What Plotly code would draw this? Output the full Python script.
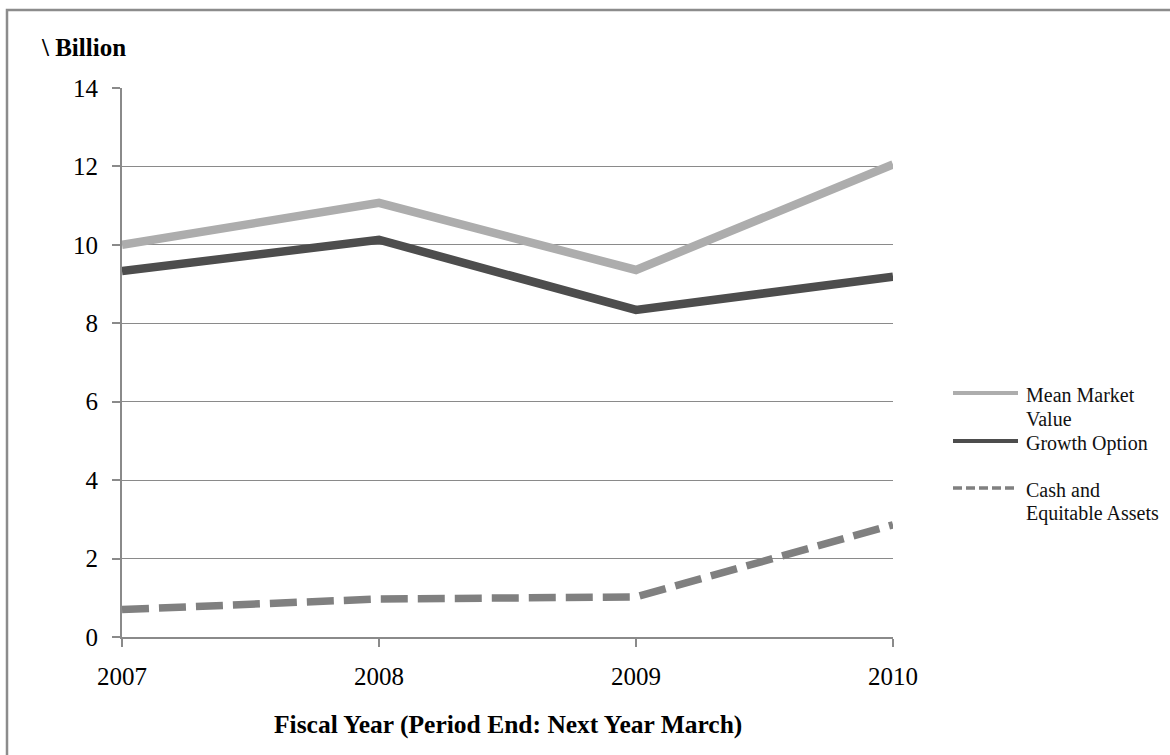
import plotly.graph_objects as go

# Fiscal years and values (\ Billion)
years = [2007, 2008, 2009, 2010]
mean_market_value = [10.0, 11.07, 9.36, 12.05]
growth_option = [9.33, 10.13, 8.34, 9.19]
cash_assets = [0.70, 0.97, 1.02, 2.86]

y_ticks = [0, 2, 4, 6, 8, 10, 12, 14]
x_ticks = [2007, 2008, 2009, 2010]

# Figure geometry (pixels)
W, H = 1170, 755
L, R, T, B = 122, 277, 88, 118
PW, PH = W - L - R, H - T - B


def px_x(x):
    return (x - L) / PW


def px_y(y):
    return (H - B - y) / PH


SERIF = "Liberation Serif, Times New Roman, serif"
GRID = "#8a8a8a"
LIGHT = "#adadad"
DARK = "#4d4d4d"
MID = "#808080"

fig = go.Figure()
fig.add_trace(go.Scatter(x=years, y=mean_market_value, mode="lines",
                         name="Mean Market Value",
                         line=dict(color=LIGHT, width=8.5)))
fig.add_trace(go.Scatter(x=years, y=growth_option, mode="lines",
                         name="Growth Option",
                         line=dict(color=DARK, width=8.5)))
fig.add_trace(go.Scatter(x=years, y=cash_assets, mode="lines",
                         name="Cash and Equitable Assets",
                         line=dict(color=MID, width=7.5, dash="27px,10px")))

# Legend drawn beside the plot: sample line + label lines
legend_items = [
    (393, dict(color=LIGHT, width=4), ["Mean Market", "Value"]),
    (441, dict(color=DARK, width=4), ["Growth Option"]),
    (488, dict(color=MID, width=3.5, dash="9px,4px"), ["Cash and", "Equitable Assets"]),
]
shapes = []
annotations = []
for ypix, lstyle, lines in legend_items:
    shapes.append(dict(type="line", xref="paper", yref="paper",
                       x0=px_x(953), x1=px_x(1018), y0=px_y(ypix), y1=px_y(ypix),
                       line=lstyle))
    for i, txt in enumerate(lines):
        annotations.append(dict(text=txt, xref="paper", yref="paper",
                                x=px_x(1024), y=px_y(ypix + 2 + 23.5 * i),
                                xanchor="left", yanchor="middle", showarrow=False,
                                font=dict(family=SERIF, size=20, color="#111")))

# Unit label and x-axis title
annotations.append(dict(text="<b>\\ Billion</b>", xref="paper", yref="paper",
                        x=px_x(39), y=px_y(47), xanchor="left", yanchor="middle",
                        showarrow=False, font=dict(family=SERIF, size=25, color="#000")))
annotations.append(dict(text="<b>Fiscal Year (Period End: Next Year March)</b>",
                        xref="paper", yref="paper", x=0.5, y=px_y(724),
                        xanchor="center", yanchor="middle", showarrow=False,
                        font=dict(family=SERIF, size=25.5, color="#000")))

# Outer frame around the chart
shapes.append(dict(type="rect", xref="paper", yref="paper",
                   x0=px_x(7), y0=px_y(H + 10), x1=px_x(W + 10), y1=px_y(10),
                   line=dict(color="#8c8c8c", width=2.5), layer="below"))

fig.update_layout(
    width=W, height=H,
    margin=dict(l=L, r=R, t=T, b=B, pad=0),
    paper_bgcolor="white", plot_bgcolor="white",
    showlegend=False,
    shapes=shapes, annotations=annotations,
    font=dict(family=SERIF, color="#000"),
)
fig.update_xaxes(range=[2007, 2010], tickvals=x_ticks, ticktext=[str(v) for v in x_ticks],
                 showgrid=False, zeroline=False,
                 showline=True, linecolor=GRID, linewidth=2,
                 ticks="outside", ticklen=8, tickwidth=1.5, tickcolor=GRID,
                 ticklabelstandoff=8,
                 tickfont=dict(family=SERIF, size=25, color="#000"))
fig.update_yaxes(range=[0, 14], tickvals=y_ticks,
                 showgrid=True, gridcolor=GRID, gridwidth=1, zeroline=False,
                 showline=True, linecolor=GRID, linewidth=2,
                 ticks="outside", ticklen=8, tickwidth=1.5, tickcolor=GRID,
                 ticklabelstandoff=9,
                 tickfont=dict(family=SERIF, size=25, color="#000"))

fig.write_html("out.html")
